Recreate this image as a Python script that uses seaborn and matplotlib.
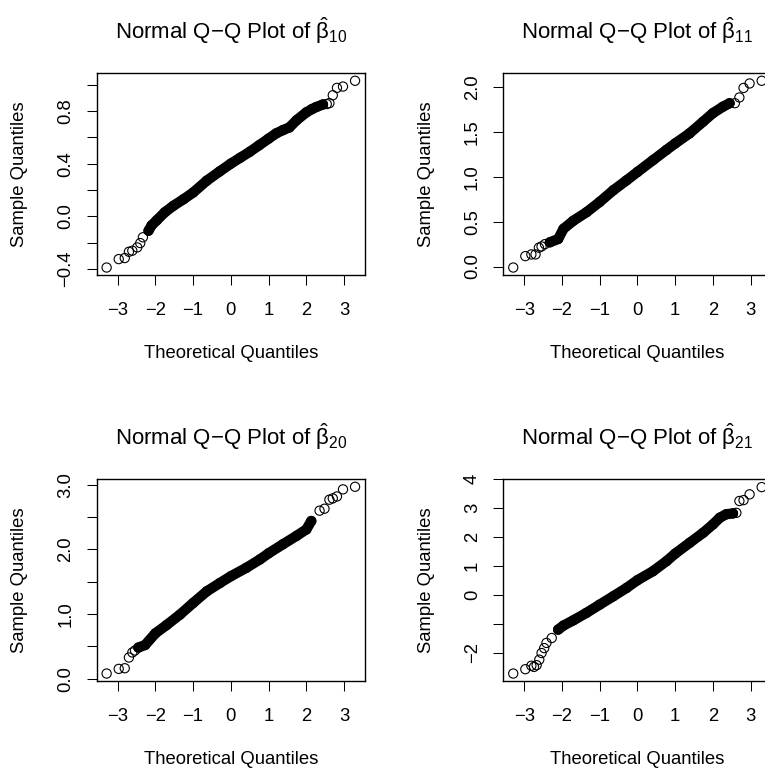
import matplotlib
matplotlib.use("Agg")
import matplotlib.pyplot as plt
import seaborn as sns
import pandas as pd
import numpy as np

# values: theoretical quantile vs sample quantile
theo_b10 = [-3.29, -2.97, -2.81, -2.70, -2.61, -2.48, -2.40, -2.33, -2.18, -2.10, -1.96, -1.75,
            -1.52, -1.25, -1.00, -0.64, -0.30, 0.00, 0.25, 0.50, 0.75, 1.00, 1.20, 1.38, 1.55,
            1.74, 2.00, 2.15, 2.26, 2.44, 2.54, 2.61, 2.70, 2.81, 2.97, 3.29]
samp_b10 = [-0.39, -0.326, -0.318, -0.27, -0.262, -0.237, -0.204, -0.16, -0.11, -0.07, -0.03, 0.03,
            0.08, 0.13, 0.18, 0.27, 0.34, 0.40, 0.445, 0.49, 0.54, 0.59, 0.63, 0.655, 0.675,
            0.73, 0.79, 0.815, 0.83, 0.85, 0.853, 0.86, 0.92, 0.976, 0.986, 1.03]

theo_b11 = [-3.29, -2.97, -2.81, -2.70, -2.61, -2.54, -2.45, -2.32, -2.10, -1.96, -1.70, -1.35,
            -1.00, -0.64, -0.29, 0.00, 0.41, 0.77, 1.00, 1.38, 1.74, 2.00, 2.26, 2.44, 2.58,
            2.70, 2.81, 2.97, 3.29]
samp_b11 = [-0.011, 0.116, 0.135, 0.135, 0.21, 0.224, 0.25, 0.27, 0.307, 0.42, 0.51, 0.605,
            0.72, 0.85, 0.96, 1.054, 1.185, 1.30, 1.372, 1.484, 1.615, 1.71, 1.78, 1.82, 1.82,
            1.884, 1.99, 2.04, 2.07]

theo_b20 = [-3.29, -2.97, -2.81, -2.70, -2.61, -2.54, -2.45, -2.27, -2.00, -1.70, -1.35, -1.00,
            -0.64, -0.29, 0.00, 0.41, 0.77, 1.00, 1.38, 1.74, 2.00, 2.13, 2.35, 2.48, 2.61,
            2.70, 2.81, 2.97, 3.29]
samp_b20 = [0.078, 0.15, 0.16, 0.326, 0.404, 0.435, 0.48, 0.52, 0.70, 0.83, 0.99, 1.17,
            1.35, 1.48, 1.585, 1.715, 1.845, 1.94, 2.08, 2.21, 2.31, 2.44, 2.60, 2.63, 2.77,
            2.79, 2.82, 2.93, 2.97]

theo_b21 = [-3.29, -2.97, -2.81, -2.74, -2.67, -2.60, -2.54, -2.47, -2.41, -2.27, -2.10, -1.96,
            -1.70, -1.35, -1.00, -0.64, -0.29, 0.00, 0.41, 0.77, 1.00, 1.38, 1.74, 2.00, 2.18,
            2.35, 2.53, 2.62, 2.70, 2.81, 2.97, 3.29]
samp_b21 = [-2.72, -2.57, -2.45, -2.49, -2.43, -2.24, -2.01, -1.84, -1.66, -1.49, -1.20, -1.06,
            -0.88, -0.62, -0.335, -0.046, 0.24, 0.51, 0.82, 1.17, 1.43, 1.80, 2.15, 2.44, 2.67,
            2.79, 2.82, 2.84, 3.25, 3.28, 3.48, 3.73]

# stretch of each panel where the 1000 circles merge into a solid band
dense_b10 = (-2.25, 2.50)
dense_b11 = (-2.40, 2.50)
dense_b20 = (-2.50, 2.15)
dense_b21 = (-2.20, 2.55)

x_ticks = [-3, -2, -1, 0, 1, 2, 3]
x_labels = ["\u22123", "\u22122", "\u22121", "0", "1", "2", "3"]

yticks_b10 = [-0.4, -0.2, 0.0, 0.2, 0.4, 0.6, 0.8, 1.0]
ylabels_b10 = ["\u22120.4", "", "0.0", "", "0.4", "", "0.8", ""]
yticks_b11 = [0.0, 0.5, 1.0, 1.5, 2.0]
ylabels_b11 = ["0.0", "0.5", "1.0", "1.5", "2.0"]
yticks_b20 = [0.0, 0.5, 1.0, 1.5, 2.0, 2.5, 3.0]
ylabels_b20 = ["0.0", "", "1.0", "", "2.0", "", "3.0"]
yticks_b21 = [-2, -1, 0, 1, 2, 3, 4]
ylabels_b21 = ["\u22122", "", "0", "1", "2", "3", "4"]

sns.set_style("white")
plt.rcParams["font.family"] = ["Liberation Sans", "DejaVu Sans"]
plt.rcParams["mathtext.fontset"] = "custom"
plt.rcParams["mathtext.rm"] = "Liberation Sans"
plt.rcParams["mathtext.it"] = "Liberation Sans"
plt.rcParams["mathtext.default"] = "rm"

W, H = 765, 769
fig = plt.figure(figsize=(W / 100, H / 100), dpi=100)
fig.patch.set_facecolor("white")

# axes boxes in pixels: left, top, width, height (right column runs past the edge)
box_w, box_h = 268.3, 201.7
boxes = [(96.7, 73.3), (503.3, 73.3), (96.7, 479.3), (503.3, 479.3)]

tick_fs = 13.3
title_fs = 16


def qq_panel(ax, theo, samp, sub, yticks, ylabels, dense):
    df = pd.DataFrame({"theo": theo, "samp": samp})
    band = df[(df["theo"] >= dense[0]) & (df["theo"] <= dense[1])]
    sns.lineplot(data=band, x="theo", y="samp", ax=ax, color="black", lw=7.4,
                 estimator=None, sort=False, solid_capstyle="round")
    sns.scatterplot(data=df, x="theo", y="samp", ax=ax, s=44, facecolor="none",
                    edgecolor="black", linewidth=0.8, zorder=3)

    lo, hi = df["theo"].min(), df["theo"].max()
    ax.set_xlim(lo - 0.04 * (hi - lo), hi + 0.04 * (hi - lo))
    lo, hi = df["samp"].min(), df["samp"].max()
    ax.set_ylim(lo - 0.04 * (hi - lo), hi + 0.04 * (hi - lo))

    ax.set_xticks(x_ticks)
    ax.set_xticklabels(x_labels)
    ax.set_yticks(yticks)
    ax.set_yticklabels(ylabels)
    ax.tick_params(axis="both", direction="out", length=7.2, width=0.75,
                   labelsize=tick_fs, pad=9, color="black", labelcolor="black",
                   bottom=True, left=True)
    ax.tick_params(axis="x", pad=12.5)
    ax.tick_params(axis="y", labelrotation=90)
    for lbl in ax.get_yticklabels():
        lbl.set_verticalalignment("center")
    for sp in ax.spines.values():
        sp.set_visible(True)
        sp.set_color("black")
        sp.set_linewidth(1.0)

    ax.set_title("Normal Q\u2212Q Plot of $\\hat{\\beta}_{" + sub + "}$",
                 fontsize=title_fs, pad=25, color="black")
    ax.set_xlabel("Theoretical Quantiles", fontsize=tick_fs, color="black")
    ax.set_ylabel("Sample Quantiles", fontsize=tick_fs, color="black")
    ax.xaxis.set_label_coords(0.5, -83.4 / box_h)
    ax.xaxis.label.set_verticalalignment("baseline")
    ax.yaxis.set_label_coords(-72.7 / box_w, 0.5)
    ax.yaxis.label.set_verticalalignment("baseline")


panels = [
    (theo_b10, samp_b10, "10", yticks_b10, ylabels_b10, dense_b10),
    (theo_b11, samp_b11, "11", yticks_b11, ylabels_b11, dense_b11),
    (theo_b20, samp_b20, "20", yticks_b20, ylabels_b20, dense_b20),
    (theo_b21, samp_b21, "21", yticks_b21, ylabels_b21, dense_b21),
]

for (left, top), args in zip(boxes, panels):
    ax = fig.add_axes([left / W, 1 - (top + box_h) / H, box_w / W, box_h / H])
    ax.set_facecolor("white")
    qq_panel(ax, *args)

fig.savefig("out.png", dpi=100, facecolor="white")
